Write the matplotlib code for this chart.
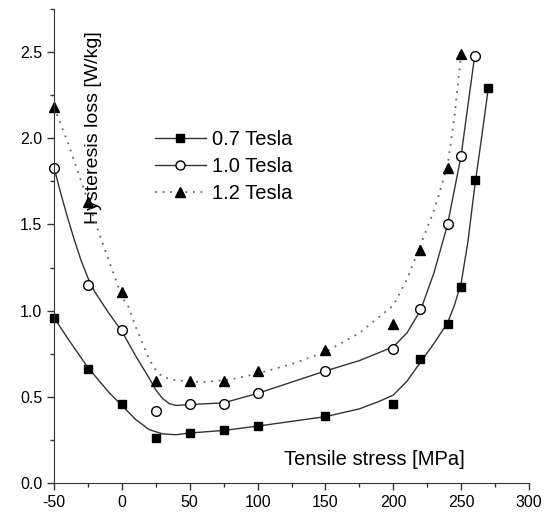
import matplotlib
matplotlib.use('Agg')
import matplotlib.pyplot as plt
from matplotlib.lines import Line2D
from matplotlib.ticker import MultipleLocator, FormatStrFormatter

plt.rcParams.update({
    'font.family': ['Liberation Sans', 'DejaVu Sans'],
    'axes.unicode_minus': False,
    'xtick.labelsize': 11.5,
    'ytick.labelsize': 11.5,
})

# measured points
stress = [-50, -25, 0, 25, 50, 75, 100, 150, 200, 220, 240, 250, 260, 270]
loss_07 = [0.96, 0.66, 0.46, 0.26, 0.29, 0.31, 0.33, 0.39, 0.46, 0.72, 0.92, 1.14, 1.76, 2.29]
stress_10 = [-50, -25, 0, 25, 50, 75, 100, 150, 200, 220, 240, 250, 260]
loss_10 = [1.83, 1.15, 0.89, 0.42, 0.46, 0.46, 0.52, 0.65, 0.78, 1.01, 1.50, 1.90, 2.48]
stress_12 = [-50, -25, 0, 25, 50, 75, 100, 150, 200, 220, 240, 250]
loss_12 = [2.18, 1.63, 1.11, 0.59, 0.59, 0.59, 0.65, 0.77, 0.92, 1.35, 1.83, 2.49]

# fitted curves
fit_x_07 = [-50, -40, -25, -10, 0, 10, 20, 30, 40, 50, 75, 100, 150, 175, 190, 200,
            210, 220, 230, 240, 245, 250, 255, 260, 265, 270]
fit_y_07 = [0.96, 0.84, 0.67, 0.53, 0.45, 0.37, 0.31, 0.285, 0.28, 0.29, 0.305, 0.33,
            0.385, 0.43, 0.475, 0.51, 0.59, 0.70, 0.81, 0.93, 1.03, 1.16, 1.40, 1.72,
            2.0, 2.29]
fit_x_10 = [-50, -45, -40, -35, -30, -25, -20, -10, 0, 10, 20, 25, 30, 35, 40, 50, 75,
            100, 150, 175, 200, 210, 220, 230, 240, 250, 260]
fit_y_10 = [1.83, 1.68, 1.54, 1.41, 1.29, 1.19, 1.11, 0.99, 0.88, 0.74, 0.61, 0.54,
            0.49, 0.46, 0.45, 0.455, 0.465, 0.52, 0.65, 0.71, 0.79, 0.87, 1.0, 1.22,
            1.50, 1.90, 2.48]
fit_x_12 = [-50, -40, -30, -20, -10, 0, 5, 10, 20, 25, 30, 40, 60, 80, 100, 125, 150,
            175, 200, 210, 220, 230, 240, 245, 250]
fit_y_12 = [2.18, 1.98, 1.75, 1.52, 1.30, 1.08, 1.02, 0.91, 0.72, 0.655, 0.615, 0.595,
            0.585, 0.60, 0.635, 0.69, 0.76, 0.87, 1.03, 1.18, 1.38, 1.58, 1.84, 2.12,
            2.49]

labels = ['0.7 Tesla', '1.0 Tesla', '1.2 Tesla']

fig = plt.figure(figsize=(5.47, 5.14), dpi=100)
ax = fig.add_axes([54 / 547, 31 / 514, 475 / 547, 474 / 514])

lc = '#333333'
dot = (0, (1, 3.2))
ax.plot(fit_x_07, fit_y_07, '-', color=lc, lw=1.0)
ax.plot(fit_x_10, fit_y_10, '-', color=lc, lw=1.0)
ax.plot(fit_x_12, fit_y_12, color='#666666', lw=1.3, linestyle=dot)

ax.plot(stress, loss_07, 's', color='black', ms=6, ls='none', clip_on=False)
ax.plot(stress_10, loss_10, 'o', mfc='white', mec='black', ms=7, mew=1.0, ls='none', clip_on=False)
ax.plot(stress_12, loss_12, '^', color='black', ms=7, ls='none', clip_on=False)

handles = [
    Line2D([], [], color=lc, lw=1.0, marker='s', mfc='black', mec='black', ms=6),
    Line2D([], [], color=lc, lw=1.0, marker='o', mfc='white', mec='black', ms=6.5),
    Line2D([], [], color='#666666', lw=1.3, linestyle=dot, marker='^',
           mfc='black', mec='black', ms=7),
]
ax.legend(handles, labels, loc='upper left', bbox_to_anchor=(0.175, 0.783),
          frameon=False, fontsize=14.5, handlelength=2.5, handletextpad=0.3,
          labelspacing=0.4, numpoints=1)

ax.set_xlim(-50, 300)
ax.set_ylim(0, 2.75)
ax.xaxis.set_major_locator(MultipleLocator(50))
ax.xaxis.set_minor_locator(MultipleLocator(25))
ax.yaxis.set_major_locator(MultipleLocator(0.5))
ax.yaxis.set_minor_locator(MultipleLocator(0.25))
ax.yaxis.set_major_formatter(FormatStrFormatter('%.1f'))
ax.tick_params(which='major', direction='out', length=5, width=1, color='#333333')
ax.tick_params(which='minor', direction='out', length=3, width=1, color='#333333')
ax.spines['top'].set_visible(False)
ax.spines['right'].set_visible(False)
for s in ['left', 'bottom']:
    ax.spines[s].set_color('#333333')

ax.set_xlabel('Tensile stress [MPa]', fontsize=14.5)
ax.xaxis.set_label_coords(0.674, 0.07)
ax.set_ylabel('Hysteresis loss [W/kg]', fontsize=14)
ax.yaxis.set_label_coords(0.1, 0.75)

fig.savefig('out.png', dpi=100)
